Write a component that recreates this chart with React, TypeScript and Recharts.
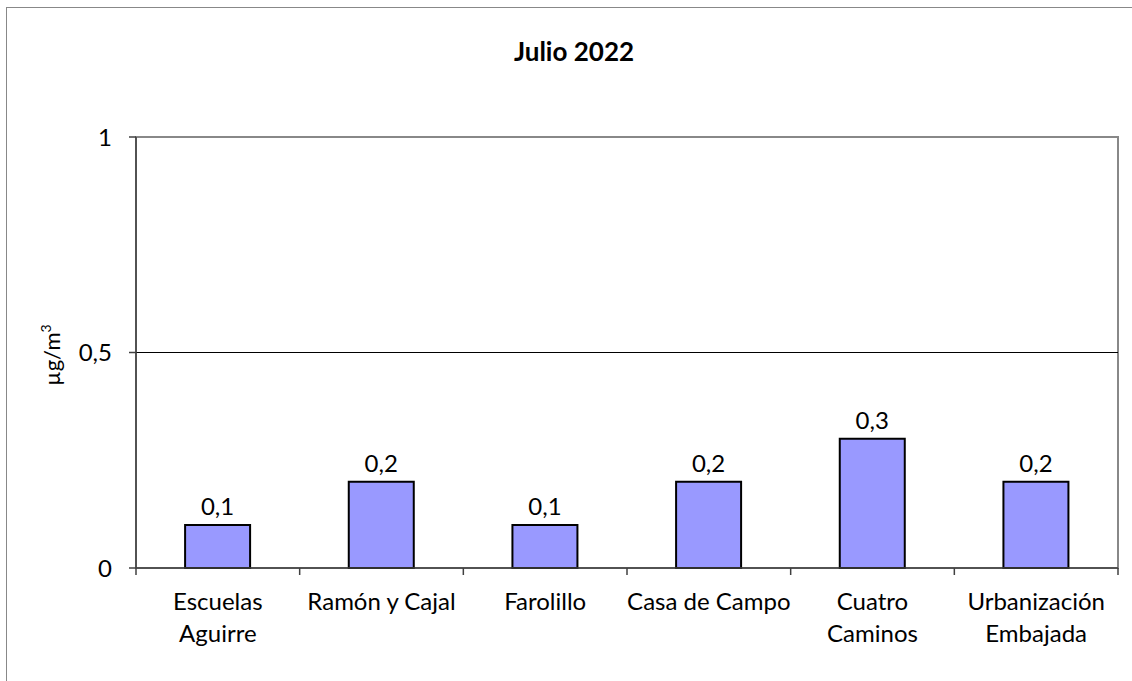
import { Bar, BarChart, LabelList, ReferenceArea, ReferenceLine, XAxis, YAxis } from 'recharts'

const STATIONS = ['Escuelas Aguirre', 'Ramón y Cajal', 'Farolillo', 'Casa de Campo', 'Cuatro Caminos', 'Urbanización Embajada']
const STATION_LINES = [['Escuelas', 'Aguirre'], ['Ramón y Cajal'], ['Farolillo'], ['Casa de Campo'], ['Cuatro', 'Caminos'], ['Urbanización', 'Embajada']]
const VALUES = [0.1, 0.2, 0.1, 0.2, 0.3, 0.2]
const Y_TICKS = [0, 0.5, 1]

const FONT = 'Lato, "Open Sans", sans-serif'
const AXIS_COLOR = '#404040'

const data = STATIONS.map((name, i) => ({ name, value: VALUES[i] }))

const formatComma = (v: number) => String(v).replace('.', ',')

// category labels plus the small tick marks on the category boundaries
function StationTick(props: any) {
  const { x, y, payload, index, visibleTicksCount } = props
  const lines = STATION_LINES[payload?.index ?? index] ?? []
  const half = payload?.offset ?? 0
  const axisY = y - 2
  const isLast = (payload?.index ?? index) === (visibleTicksCount ?? STATIONS.length) - 1
  return (
    <g>
      <line x1={x - half} x2={x - half} y1={axisY} y2={axisY + 7} stroke={AXIS_COLOR} strokeWidth={1.5} />
      {isLast && <line x1={x + half} x2={x + half} y1={axisY} y2={axisY + 7} stroke={AXIS_COLOR} strokeWidth={1.5} />}
      <text x={x} y={axisY} textAnchor="middle" fill="#000" fontSize={24} fontFamily={FONT}>
        {lines.map((line, i) => (
          <tspan key={line} x={x} dy={i === 0 ? 42 : 32}>
            {line}
          </tspan>
        ))}
      </text>
    </g>
  )
}

export default function App() {
  return (
    <div style={{ position: 'absolute', left: 0, top: 0, width: 1132, height: 681, overflow: 'hidden', background: '#fff' }}>
      <div style={{ position: 'absolute', left: 6, top: 7, width: 1200, height: 800, border: '1px solid #888' }} />
      <div
        style={{
          position: 'absolute',
          left: 474,
          top: 34,
          width: 200,
          textAlign: 'center',
          fontFamily: FONT,
          fontWeight: 700,
          fontSize: 26,
          lineHeight: '34px',
        }}
      >
        Julio 2022
      </div>
      <svg style={{ position: 'absolute', left: 0, top: 0 }} width={1132} height={681}>
        <text transform="translate(60 355) rotate(-90)" textAnchor="middle" fontSize={22} fontFamily={FONT} fill="#000">
          µg/m<tspan dy={-9} fontSize={14}>3</tspan>
        </text>
      </svg>
      <div style={{ position: 'absolute', left: 0, top: 0 }}>
        <BarChart
          width={1132}
          height={681}
          data={data}
          margin={{ top: 137, right: 14, left: 76, bottom: 13 }}
          barCategoryGap="30%"
        >
          <XAxis
            dataKey="name"
            height={100}
            interval={0}
            tickLine={false}
            tickSize={0}
            tickMargin={2}
            axisLine={{ stroke: AXIS_COLOR, strokeWidth: 1.5 }}
            tick={<StationTick />}
          />
          <YAxis
            width={60}
            domain={[0, 1]}
            ticks={Y_TICKS}
            tickFormatter={formatComma}
            tickSize={7}
            tickMargin={17}
            axisLine={{ stroke: AXIS_COLOR, strokeWidth: 1.5 }}
            tickLine={{ stroke: AXIS_COLOR, strokeWidth: 1.5 }}
            tick={{ fill: '#000', fontSize: 24, fontFamily: FONT }}
          />
          <ReferenceArea y1={0} y2={1} fill="none" stroke="#888" strokeWidth={2} />
          <ReferenceLine y={0.5} stroke="#000" strokeWidth={1} />
          <Bar dataKey="value" fill="#9999ff" stroke="#000" strokeWidth={2} isAnimationActive={false}>
            <LabelList
              dataKey="value"
              position="top"
              offset={10}
              formatter={(v: any) => formatComma(v)}
              style={{ fill: '#000', fontSize: 24, fontFamily: FONT }}
            />
          </Bar>
        </BarChart>
      </div>
    </div>
  )
}
